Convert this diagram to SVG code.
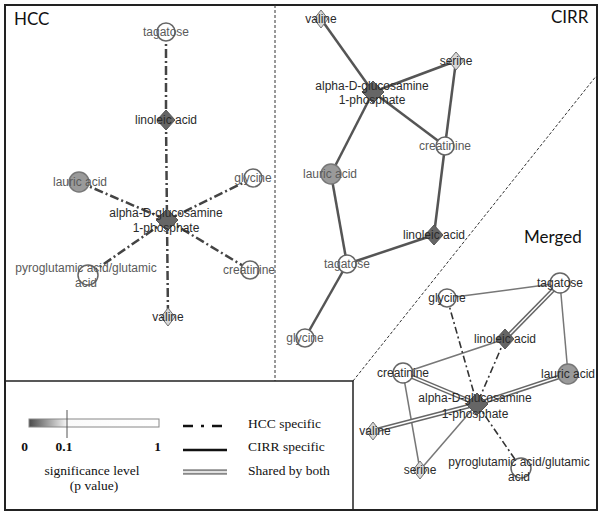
<svg xmlns="http://www.w3.org/2000/svg" width="604" height="517" viewBox="0 0 604 517">
<style>
.lbl{font-family:"Liberation Sans",Arial,sans-serif;font-size:12px;text-anchor:middle}
.lg{fill:#5a5a5a}
.ld{fill:#2a2a2a}
.title{font-family:Lato,"Liberation Sans",sans-serif;font-size:17px;fill:#111}
.serif{font-family:"Liberation Serif","Times New Roman",serif;font-size:13.5px;fill:#111}
.cw{fill:#fff;stroke:#666;stroke-width:1.5}
.cg{fill:#9a9a9a;stroke:#777;stroke-width:1.5}
.dd{fill:#666;stroke:#555;stroke-width:1}
.dl{fill:#d8d8d8;stroke:#707070;stroke-width:1}
.hcc{stroke:#444;stroke-width:2.5;stroke-dasharray:9,3,2,3;fill:none}
.cirr{stroke:#555;stroke-width:2.5;fill:none}
.mh{stroke:#333;stroke-width:1.6;stroke-dasharray:7,3,2,3;fill:none}
.mc{stroke:#777;stroke-width:1.5;fill:none}
.mso{stroke:#666;stroke-width:4.5;fill:none}
.msi{stroke:#fff;stroke-width:1.5;fill:none}
</style>
<defs>
<linearGradient id="grad" x1="0" y1="0" x2="1" y2="0">
<stop offset="0" stop-color="#4a4a4a"/>
<stop offset="0.3" stop-color="#fafafa"/>
<stop offset="1" stop-color="#ffffff"/>
</linearGradient>
</defs>
<rect x="0" y="0" width="604" height="517" fill="#fff"/>
<g id="frames" fill="none">
<rect x="5" y="5" width="592" height="505" stroke="#222" stroke-width="2"/>
<line x1="275" y1="5" x2="275" y2="381" stroke="#333" stroke-width="1" stroke-dasharray="3,2"/>
<line x1="353" y1="381" x2="597" y2="75" stroke="#333" stroke-width="1" stroke-dasharray="3,2"/>
<polyline points="5,381 353,381 353,510" stroke="#222" stroke-width="1.5"/>
</g>
<text class="title" x="14" y="25">HCC</text>
<text class="title" x="551" y="23">CIRR</text>
<text class="title" x="524" y="243">Merged</text>
<g id="connectors">
<line class="hcc" x1="166" y1="32" x2="166" y2="120"/>
<line class="hcc" x1="166" y1="120" x2="167" y2="220"/>
<line class="hcc" x1="167" y1="220" x2="168" y2="317"/>
<line class="hcc" x1="79" y1="182" x2="167" y2="220"/>
<line class="hcc" x1="253" y1="178" x2="167" y2="220"/>
<line class="hcc" x1="167" y1="220" x2="88" y2="275"/>
<line class="hcc" x1="167" y1="220" x2="250" y2="270"/>
<line class="cirr" x1="321" y1="19" x2="373" y2="92"/>
<line class="cirr" x1="373" y1="92" x2="456" y2="61"/>
<line class="cirr" x1="373" y1="92" x2="445" y2="146"/>
<line class="cirr" x1="456" y1="61" x2="445" y2="146"/>
<line class="cirr" x1="373" y1="92" x2="331" y2="174"/>
<line class="cirr" x1="331" y1="174" x2="347" y2="264"/>
<line class="cirr" x1="445" y1="146" x2="434" y2="235"/>
<line class="cirr" x1="434" y1="235" x2="347" y2="264"/>
<line class="cirr" x1="347" y1="264" x2="305" y2="338"/>
<line class="mc" x1="447" y1="298" x2="560" y2="283"/>
<line class="mc" x1="560" y1="283" x2="568" y2="374"/>
<line class="mc" x1="505" y1="339" x2="403" y2="373"/>
<line class="mc" x1="403" y1="373" x2="420" y2="470"/>
<line class="mc" x1="420" y1="470" x2="477" y2="404"/>
<line class="mh" x1="447" y1="298" x2="477" y2="404"/>
<line class="mh" x1="505" y1="339" x2="477" y2="404"/>
<line class="mh" x1="477" y1="404" x2="521" y2="468"/>
<g>
<line class="mso" x1="560" y1="283" x2="505" y2="339"/>
<line class="mso" x1="403" y1="373" x2="477" y2="404"/>
<line class="mso" x1="568" y1="374" x2="477" y2="404"/>
<line class="mso" x1="373" y1="431" x2="477" y2="404"/>
<line class="msi" x1="560" y1="283" x2="505" y2="339"/>
<line class="msi" x1="403" y1="373" x2="477" y2="404"/>
<line class="msi" x1="568" y1="374" x2="477" y2="404"/>
<line class="msi" x1="373" y1="431" x2="477" y2="404"/>
</g>
</g>
<g id="hcc-tagatose"><circle class="cw" cx="166" cy="32" r="9"/><text class="lbl lg" x="166" y="36">tagatose</text></g>
<g id="hcc-linoleic"><polygon class="dd" points="166,110 175,120 166,130 157,120"/><text class="lbl ld" x="166" y="124">linoleic acid</text></g>
<g id="hcc-lauric"><circle class="cg" cx="79" cy="182" r="10"/><text class="lbl lg" x="80" y="186">lauric acid</text></g>
<g id="hcc-glycine"><circle class="cw" cx="253" cy="178" r="9"/><text class="lbl lg" x="253" y="182">glycine</text></g>
<g id="hcc-alpha"><polygon class="dd" points="167,209 178,220 167,231 156,220"/><text class="lbl ld" x="166" y="217">alpha-D-glucosamine</text><text class="lbl ld" x="166" y="232">1-phosphate</text></g>
<g id="hcc-pyro"><circle class="cw" cx="88" cy="275" r="10"/><text class="lbl lg" x="86" y="272">pyroglutamic acid/glutamic</text><text class="lbl lg" x="86" y="287">acid</text></g>
<g id="hcc-creatinine"><circle class="cw" cx="250" cy="270" r="9"/><text class="lbl lg" x="249" y="274">creatinine</text></g>
<g id="hcc-valine"><polygon class="dl" points="168,308 175,317 168,326 161,317"/><text class="lbl ld" x="168" y="321">valine</text></g>
<g id="cirr-valine"><polygon class="dl" points="321,10 328,19 321,28 314,19"/><text class="lbl ld" x="321" y="23">valine</text></g>
<g id="cirr-serine"><polygon class="dl" points="456,52 463.5,61 456,70 448.5,61"/><text class="lbl ld" x="456" y="65">serine</text></g>
<g id="cirr-alpha"><polygon class="dd" points="373,81 384,92 373,103 362,92"/><text class="lbl ld" x="372" y="90">alpha-D-glucosamine</text><text class="lbl ld" x="372" y="104">1-phosphate</text></g>
<g id="cirr-creatinine"><circle class="cw" cx="445" cy="146" r="9"/><text class="lbl lg" x="445" y="150">creatinine</text></g>
<g id="cirr-lauric"><circle class="cg" cx="331" cy="174" r="10"/><text class="lbl lg" x="330" y="178">lauric acid</text></g>
<g id="cirr-linoleic"><polygon class="dd" points="434,225 443,235 434,245 425,235"/><text class="lbl ld" x="434" y="239">linoleic acid</text></g>
<g id="cirr-tagatose"><circle class="cw" cx="347" cy="264" r="9"/><text class="lbl lg" x="347" y="268">tagatose</text></g>
<g id="cirr-glycine"><circle class="cw" cx="305" cy="338" r="9"/><text class="lbl lg" x="305" y="342">glycine</text></g>
<g id="m-tagatose"><circle class="cw" cx="560" cy="283" r="10"/><text class="lbl ld" x="560" y="287">tagatose</text></g>
<g id="m-glycine"><circle class="cw" cx="447" cy="298" r="9"/><text class="lbl ld" x="447" y="302">glycine</text></g>
<g id="m-linoleic"><polygon class="dd" points="505,329 514,339 505,349 496,339"/><text class="lbl ld" x="505" y="343">linoleic acid</text></g>
<g id="m-creatinine"><circle class="cw" cx="403" cy="373" r="10"/><text class="lbl ld" x="403" y="377">creatinine</text></g>
<g id="m-lauric"><circle class="cg" cx="568" cy="374" r="10"/><text class="lbl ld" x="568" y="378">lauric acid</text></g>
<g id="m-alpha"><polygon class="dd" points="477,393 488,404 477,415 466,404"/><text class="lbl ld" x="475" y="402">alpha-D-glucosamine</text><text class="lbl ld" x="475" y="418">1-phosphate</text></g>
<g id="m-valine"><polygon class="dl" points="373,422 380,431 373,440 366,431"/><text class="lbl ld" x="375" y="435">valine</text></g>
<g id="m-serine"><polygon class="dl" points="420,461 427,470 420,479 413,470"/><text class="lbl ld" x="420" y="474">serine</text></g>
<g id="m-pyro"><circle class="cw" cx="521" cy="468" r="10"/><text class="lbl ld" x="519" y="466">pyroglutamic acid/glutamic</text><text class="lbl ld" x="519" y="481">acid</text></g>
<g id="legend">
<rect x="29" y="419" width="130" height="8" fill="url(#grad)" stroke="#888" stroke-width="1"/>
<line x1="67" y1="410" x2="67" y2="438" stroke="#555" stroke-width="1"/>
<text class="serif" x="24.5" y="451" text-anchor="middle" font-weight="bold" font-size="13">0</text>
<text class="serif" x="64" y="451" text-anchor="middle" font-weight="bold" font-size="13">0.1</text>
<text class="serif" x="157.5" y="451" text-anchor="middle" font-weight="bold" font-size="13">1</text>
<text class="serif" x="92" y="475" text-anchor="middle">significance level</text>
<text class="serif" x="94" y="490" text-anchor="middle">(p value)</text>
<line x1="183" y1="426" x2="228" y2="426" stroke="#111" stroke-width="2.5" stroke-dasharray="10,8,3,8"/>
<line x1="183" y1="450" x2="227" y2="450" stroke="#111" stroke-width="2.5"/>
<line x1="183" y1="472" x2="227" y2="472" stroke="#888" stroke-width="5.5"/>
<line x1="183" y1="472" x2="227" y2="472" stroke="#fff" stroke-width="1.5"/>
<text class="serif" x="248" y="428">HCC specific</text>
<text class="serif" x="248" y="451">CIRR specific</text>
<text class="serif" x="248" y="475">Shared by both</text>
</g>
</svg>
